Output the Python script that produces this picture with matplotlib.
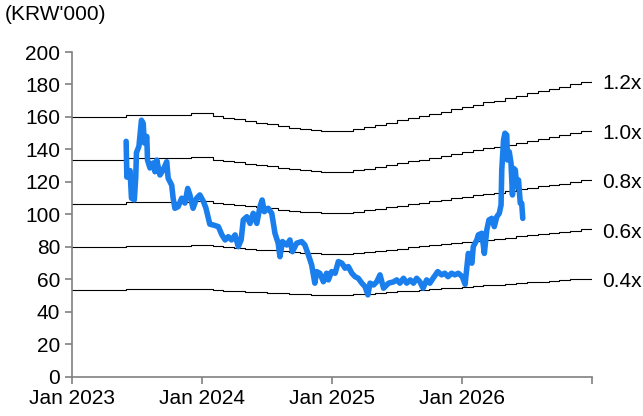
import pandas as pd
import matplotlib.pyplot as plt
import matplotlib.dates as mdates

plt.rcParams['font.family'] = ['Liberation Sans', 'DejaVu Sans']

# --- DATA ---
# Share price (KRW'000)
price_dates = [
    '2023-06-02', '2023-06-04', '2023-06-13', '2023-06-17', '2023-06-25', '2023-06-29',
    '2023-07-01', '2023-07-08', '2023-07-15', '2023-07-20', '2023-07-23', '2023-07-30',
    '2023-08-01', '2023-08-08', '2023-08-17', '2023-08-22', '2023-08-27', '2023-08-31',
    '2023-09-05', '2023-09-14', '2023-09-24', '2023-09-28', '2023-10-08', '2023-10-12',
    '2023-10-17', '2023-10-26', '2023-11-05', '2023-11-14', '2023-11-22', '2023-11-28',
    '2023-12-07', '2023-12-17', '2023-12-26', '2024-01-05', '2024-01-12', '2024-01-23',
    '2024-02-02', '2024-02-16', '2024-02-26', '2024-03-06', '2024-03-15', '2024-03-24',
    '2024-04-03', '2024-04-12', '2024-04-20', '2024-04-26', '2024-05-06', '2024-05-15',
    '2024-05-24', '2024-06-03', '2024-06-12', '2024-06-18', '2024-06-24', '2024-07-05',
    '2024-07-15', '2024-07-24', '2024-08-02', '2024-08-07', '2024-08-14', '2024-08-26',
    '2024-09-04', '2024-09-11', '2024-09-23', '2024-10-07', '2024-10-16', '2024-10-26',
    '2024-11-04', '2024-11-13', '2024-11-18', '2024-11-27', '2024-12-07', '2024-12-16',
    '2024-12-21', '2024-12-30', '2025-01-09', '2025-01-18', '2025-01-28', '2025-02-06',
    '2025-02-15', '2025-02-25', '2025-03-06', '2025-03-15', '2025-03-25', '2025-04-03',
    '2025-04-11', '2025-04-17', '2025-04-27', '2025-05-06', '2025-05-15', '2025-05-25',
    '2025-06-08', '2025-06-22', '2025-07-01', '2025-07-10', '2025-07-20', '2025-07-29',
    '2025-08-08', '2025-08-17', '2025-08-26', '2025-09-04', '2025-09-13', '2025-09-23',
    '2025-10-02', '2025-10-11', '2025-10-24', '2025-11-04', '2025-11-13', '2025-11-22',
    '2025-12-02', '2025-12-11', '2025-12-21', '2026-01-01', '2026-01-09', '2026-01-18',
    '2026-01-28', '2026-02-01', '2026-02-11', '2026-02-15', '2026-02-25', '2026-03-04',
    '2026-03-11', '2026-03-17', '2026-03-25', '2026-04-01', '2026-04-08', '2026-04-15',
    '2026-04-20', '2026-04-22', '2026-04-27', '2026-05-01', '2026-05-06', '2026-05-08',
    '2026-05-13', '2026-05-18', '2026-05-22', '2026-05-25', '2026-05-30', '2026-06-03',
    '2026-06-08', '2026-06-13', '2026-06-17', '2026-06-20',
]
price = [
    145, 123, 127, 110, 109, 123,
    138, 142, 158, 156, 144, 148,
    133.5, 128.6, 131.7, 126.3, 133.5, 129.4,
    124.3, 127.4, 132.5, 122.3, 118, 110,
    103.8, 104.8, 110, 107, 116, 112,
    103.8, 110, 112, 108, 104, 94,
    93.5, 92.5, 87.4, 84.3, 86.3, 84.3,
    87.4, 80.2, 84.3, 96.6, 98.6, 94.5,
    100.7, 94.5, 104.8, 108.9, 101.7, 103.8,
    100.7, 88.4, 82.3, 74, 83.3, 81.2,
    84.3, 77.1, 82.3, 83.3, 81.2, 75,
    69, 57.7, 64.8, 63.8, 58.6, 63.8,
    59.7, 64.8, 63.8, 71, 70, 66.9,
    67.9, 63.8, 61.7, 60.7, 57.7, 55.6,
    50.5, 57.7, 56.6, 58.6, 62.8, 54.6,
    57.7, 58.5, 59.7, 57.7, 60.7, 57.7,
    59.7, 57.7, 60.7, 58.6, 54.6, 59.7,
    57.7, 60.7, 64.8, 62.8, 63.8, 61.7,
    63.8, 62.8, 63.8, 61.7, 57, 76,
    70, 80.2, 84.3, 87.4, 88.4, 76,
    90.5, 96.6, 97.6, 92.5, 98.6, 100.7,
    105.8, 127.4, 145.8, 150, 148.9, 133.5,
    138.6, 131.5, 112, 128.4, 127.4, 117.1,
    121.2, 106.9, 106.9, 97.6,
]

# Book value per share by month (KRW'000), Jan 2023 .. Jan 2027
bvps_months = pd.date_range('2023-01-01', '2027-01-01', freq='MS')
bvps = [
    133.3, 133.3, 133.3, 133.3, 133.3, 134.5, 134.5, 134.5, 134.5, 134.5, 134.5, 135.4,
    135.4, 133.8, 132.9, 132.3, 131.3, 130.4, 129.8, 128.8, 127.9, 127.1, 126.7, 126.2,
    126.2, 126.2, 127.1, 128.2, 129.2, 130.4, 131.7, 132.8, 133.8, 135.0, 136.1, 137.3,
    138.3, 139.6, 140.8, 141.7, 142.9, 144.2, 145.4, 146.7, 147.5, 148.8, 150.0, 151.3,
    152.5,
]
multiples = [0.4, 0.6, 0.8, 1.0, 1.2]
band_labels = ['0.4x', '0.6x', '0.8x', '1.0x', '1.2x']

tick_dates = pd.to_datetime(['2023-01-01', '2024-01-01', '2025-01-01', '2026-01-01', '2027-01-01'])
tick_labels = ['Jan 2023', 'Jan 2024', 'Jan 2025', 'Jan 2026', '']

# --- PLOT ---
fig = plt.figure(figsize=(6.43, 4.16), dpi=100)
ax = fig.add_axes([0.112, 0.094, 0.809, 0.781])

for m, label in zip(multiples, band_labels):
    band = [b * m for b in bvps]
    ax.plot(bvps_months, band, color='black', linewidth=0.8, drawstyle='steps-post')
    ax.annotate(label, xy=(bvps_months[-1], band[-1]), xytext=(7, -3),
                textcoords='offset points', ha='left', va='center', fontsize=15,
                annotation_clip=False)

ax.plot(pd.to_datetime(price_dates), price, color='#1a7fec', linewidth=4,
        solid_joinstyle='round', solid_capstyle='round')

ax.set_xlim(tick_dates[0], tick_dates[-1])
ax.set_ylim(0, 200)
ax.set_yticks(range(0, 201, 20))
ax.set_xticks(tick_dates)
ax.set_xticklabels(tick_labels)

for side in ['top', 'right']:
    ax.spines[side].set_visible(False)
for side in ['left', 'bottom']:
    ax.spines[side].set_color('#808080')
    ax.spines[side].set_linewidth(1.2)
ax.tick_params(axis='both', colors='#808080', labelcolor='black', labelsize=15,
               direction='out', length=5, width=1.2)
ax.tick_params(axis='x', pad=4)

fig.text(0.008, 0.965, "(KRW'000)", fontsize=15, ha='left', va='center')

plt.savefig('out.png', dpi=100)
